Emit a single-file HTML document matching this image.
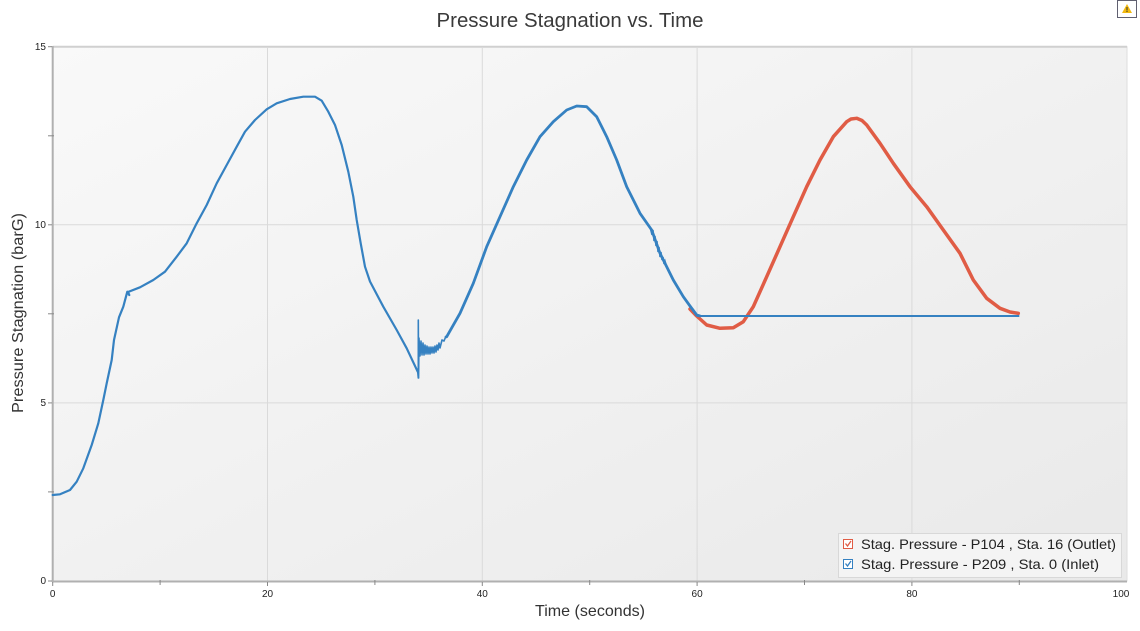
<!DOCTYPE html>
<html><head><meta charset="utf-8"><style>
html,body{margin:0;padding:0;background:#fff;}
svg{display:block;font-family:"Liberation Sans",sans-serif;}
</style></head><body>
<svg width="1140" height="631" viewBox="0 0 1140 631" xmlns="http://www.w3.org/2000/svg">
<defs>
<linearGradient id="bg" x1="0" y1="0" x2="1" y2="1">
<stop offset="0" stop-color="#f9f9f9"/><stop offset="1" stop-color="#e9e9e9"/>
</linearGradient>
</defs>
<rect x="0" y="0" width="1140" height="631" fill="#fff"/>
<text x="570" y="27" font-size="20" fill="#3a3a3a" text-anchor="middle" textLength="267" lengthAdjust="spacingAndGlyphs">Pressure Stagnation vs. Time</text>
<!-- warning icon -->
<rect x="1117.5" y="0.5" width="19" height="17" fill="#fff" stroke="#606070" stroke-width="1"/>
<polygon points="1127,4 1132,13 1122,13" fill="#f2b90f"/>
<rect x="1126.5" y="7" width="1" height="3.5" fill="#333"/><rect x="1126.5" y="11" width="1" height="1" fill="#333"/>
<!-- plot area -->
<rect x="52.7" y="46.7" width="1074.3" height="534.3" fill="url(#bg)" stroke="#dedede" stroke-width="1"/>
<line x1="52.7" y1="46.7" x2="1127" y2="46.7" stroke="#d0d0d0" stroke-width="2"/>
<g stroke="#dadada" stroke-width="1">
<line x1="267.5" y1="47" x2="267.5" y2="581"/><line x1="482.3" y1="47" x2="482.3" y2="581"/>
<line x1="697.1" y1="47" x2="697.1" y2="581"/><line x1="911.9" y1="47" x2="911.9" y2="581"/>
<line x1="53" y1="224.8" x2="1127" y2="224.8"/><line x1="53" y1="402.9" x2="1127" y2="402.9"/>
</g>
<!-- axes -->
<line x1="52.7" y1="46" x2="52.7" y2="582" stroke="#b0b0b0" stroke-width="2"/>
<line x1="52" y1="581.5" x2="1127" y2="581.5" stroke="#b0b0b0" stroke-width="2"/>
<g stroke="#888" stroke-width="1">
<line x1="52.7" y1="582" x2="52.7" y2="586"/><line x1="160.1" y1="580" x2="160.1" y2="585"/>
<line x1="267.5" y1="582" x2="267.5" y2="586"/><line x1="374.9" y1="580" x2="374.9" y2="585"/>
<line x1="482.3" y1="582" x2="482.3" y2="586"/><line x1="589.7" y1="580" x2="589.7" y2="585"/>
<line x1="697.1" y1="582" x2="697.1" y2="586"/><line x1="804.5" y1="580" x2="804.5" y2="585"/>
<line x1="911.9" y1="582" x2="911.9" y2="586"/><line x1="1019.3" y1="580" x2="1019.3" y2="585"/>
<line x1="48" y1="46.7" x2="52" y2="46.7"/><line x1="48" y1="135.8" x2="54" y2="135.8"/>
<line x1="48" y1="224.8" x2="52" y2="224.8"/><line x1="48" y1="313.8" x2="54" y2="313.8"/>
<line x1="48" y1="402.9" x2="52" y2="402.9"/><line x1="48" y1="491.9" x2="54" y2="491.9"/>
<line x1="48" y1="581" x2="52" y2="581"/>
</g>
<g font-size="10" fill="#222">
<g text-anchor="end">
<text x="46" y="50">15</text><text x="46" y="228">10</text><text x="46" y="406">5</text><text x="46" y="584">0</text>
</g>
<g text-anchor="middle">
<text x="52.7" y="597">0</text><text x="267.5" y="597">20</text><text x="482.3" y="597">40</text>
<text x="697.1" y="597">60</text><text x="911.9" y="597">80</text><text x="1121" y="597">100</text>
</g>
</g>
<text x="590" y="616" font-size="16" fill="#333" text-anchor="middle" textLength="110" lengthAdjust="spacingAndGlyphs">Time (seconds)</text>
<text transform="translate(23,313) rotate(-90)" font-size="16" fill="#333" text-anchor="middle" textLength="200" lengthAdjust="spacingAndGlyphs">Pressure Stagnation (barG)</text>
<!-- red series -->
<polyline fill="none" stroke="#e05c45" stroke-width="3.5" stroke-linejoin="round" stroke-linecap="round" points="690,309 696.7,316 706.7,325 720,328.3 733.3,327.7 743.3,321.7 753.3,306.7 766.7,276.7 780,246.7 793.3,216.7 806.7,186.7 820,160 833.3,136.7 846.7,121.7 851,119 856.7,118.3 862,120.5 866.7,125 880,143.3 893.3,163.3 910,186.7 926.7,206.7 943.3,230 960,253.3 973.3,280 986.7,298.3 1000,308.3 1010,312 1018.3,313.3"/>
<!-- blue series -->
<polyline fill="none" stroke="#3581c1" stroke-width="2.2" stroke-linejoin="round" stroke-linecap="round" points="52.7,495 60,494.3 70,490 76.7,481.7 83.3,468.3 91.7,445 98.3,423.3 103.3,400 106.7,383.3 111.7,360 114,340 119,317.3 123.3,306.7 127.3,291.7 129.3,295 128,292 140,287.3 153.3,280 165,271.7 176.7,256.7 186.7,243.3 196.7,223.3 206.7,205 216.7,183.3 226.7,165 236.7,146.7 245,131.7 255,120 266.7,109.3 276.7,103.3 290,99 303.3,96.7 315,96.7 321.7,100.7 328.3,111.7 335,125 341.7,145 348.3,171.7 353.3,196.7 356.7,220 360.7,243.3 365,266.7 370,281.5 383.3,306.7 396.7,330 406.7,348.3 417.7,371.7"/>
<polyline fill="none" stroke="#3581c1" stroke-width="1.6" stroke-linejoin="round" points="417.7,371.7 418.3,378 418.3,320 418.6,378 419,338 420,356 421,341 422,355 423,343 424,355 425,345 426,354 427,346 428,354 429,347 430,354 431,347 432,353 433,347 434,353 435,346 436,352 437,345 438,350 439,343 440,348 442,340 444,341 446,336"/>
<polyline fill="none" stroke="#3581c1" stroke-width="2.8" stroke-linejoin="round" stroke-linecap="round" points="446,337 446.7,336.7 460,313.3 473.3,283.3 486.7,246.7 500,216.7 513.3,186.7 526.7,160 540,136.7 553.3,121.7 566.7,110 576.7,106 586.7,106.7 596.7,116.7 606.7,136.7 616.7,160 626.7,186.7 640,213.3 651.7,230 660,253.3 673.3,280 683.3,296.7 690,306 696.7,315 700,316"/>
<polyline fill="none" stroke="#3581c1" stroke-width="1.5" points="650,227 652,235 653,230 654,241 655,236 656,246 657,241 658,252 659,247 660,257 661,252 662,260 663,257 664,264 665,261 667,268"/>
<line x1="696.7" y1="316" x2="1019.3" y2="316" stroke="#3581c1" stroke-width="2"/>
<!-- legend -->
<rect x="838.5" y="533.5" width="283" height="44" fill="#f4f4f4" stroke="#d8d8d8" stroke-width="1"/>
<rect x="843.5" y="539.5" width="9" height="9" fill="#fff" stroke="#e05c45" stroke-width="1"/>
<polyline points="845.5,543.5 847.5,546 851,541" fill="none" stroke="#e05c45" stroke-width="1.3"/>
<rect x="843.5" y="559.5" width="9" height="9" fill="#fff" stroke="#3581c1" stroke-width="1"/>
<polyline points="845.5,563.5 847.5,566 851,561" fill="none" stroke="#3581c1" stroke-width="1.3"/>
<text x="861" y="549" font-size="14" fill="#222" textLength="255" lengthAdjust="spacingAndGlyphs">Stag. Pressure - P104 , Sta. 16 (Outlet)</text>
<text x="861" y="569" font-size="14" fill="#222" textLength="238" lengthAdjust="spacingAndGlyphs">Stag. Pressure - P209 , Sta. 0 (Inlet)</text>
</svg>
</body></html>
